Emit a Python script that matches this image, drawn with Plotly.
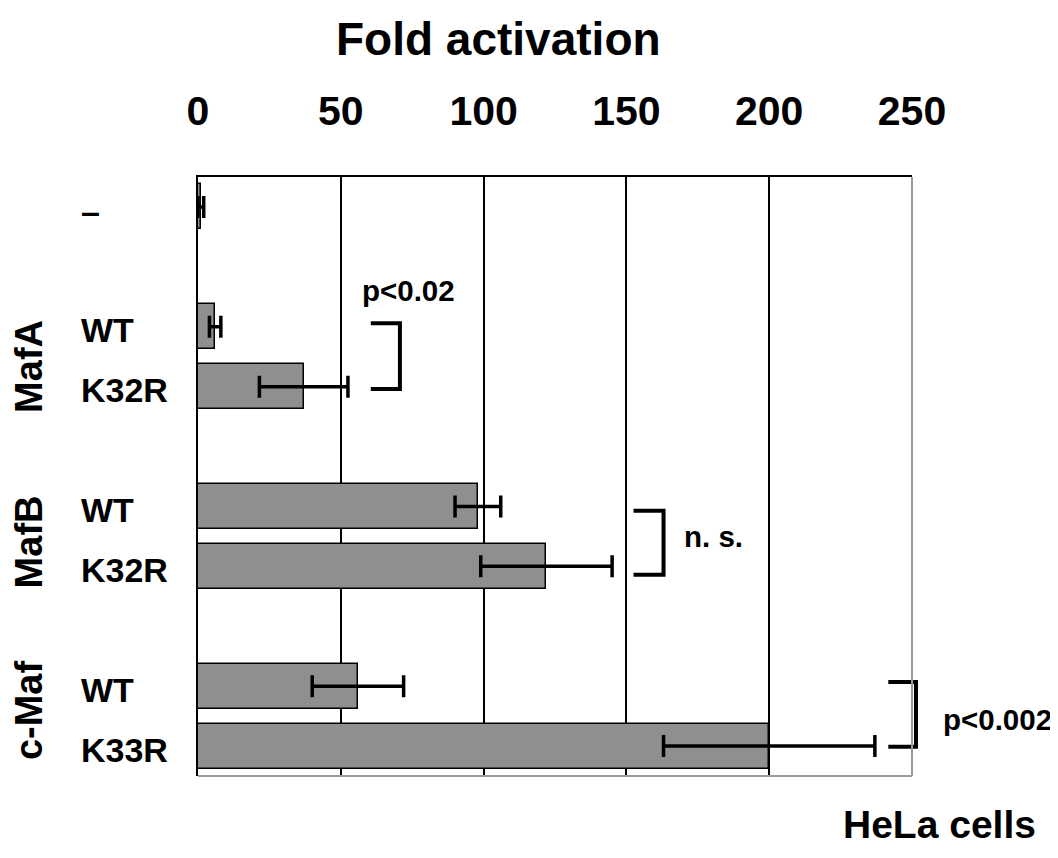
import plotly.graph_objects as go

# ---- data ----
rows = ["–", None, "WT", "K32R", None, "WT", "K32R", None, "WT", "K33R"]
values = [1, None, 6, 37, None, 98, 122, None, 56, 200]
errors = [1, None, 2, 15.5, None, 8, 23, None, 16, 37]
groups = ["MafA", "MafB", "c-Maf"]
group_rows = [(2, 3), (5, 6), (8, 9)]
tick_vals = [0, 50, 100, 150, 200, 250]
brackets = [("p<0.02", (2, 3)), ("n. s.", (5, 6)), ("p<0.002", (8, 9))]

FONT = "Liberation Sans, Arial, Helvetica, sans-serif"

# page body has an 8px margin: figure is placed at (8, 8) in the window
OFF = 8
W, H = 1050, 850
L, T = 198 - OFF, 177 - OFF
R = W - (912 - OFF)
B = H - (776 - OFF)
pw, ph = W - L - R, H - T - B
XR = [0, 250]
YR = [-0.5, len(rows) - 0.5]

def px_x(px):
    return (px - OFF - L) / pw

def px_y(py):
    return 1 - (py - OFF - T) / ph

def yp(idx):
    return 1 - (idx - YR[0]) / (YR[1] - YR[0])

def xp(v):
    return (v - XR[0]) / (XR[1] - XR[0])

ys = [i for i, r in enumerate(rows) if r is not None]
xs = [values[i] for i in ys]
es = [errors[i] for i in ys]

fig = go.Figure()
fig.add_trace(go.Bar(
    x=xs, y=ys, orientation="h", width=0.75,
    marker=dict(color="#8f8f8f", line=dict(color="black", width=1.5)),
    error_x=dict(type="data", array=es, visible=True, color="black",
                 thickness=3.5, width=11),
    showlegend=False, hoverinfo="x",
))

annotations = []
for i in ys:
    annotations.append(dict(
        text=f"<b>{rows[i]}</b>", xref="paper", yref="paper",
        x=px_x(79), y=yp(i) - 0.006, xanchor="left", yanchor="middle",
        showarrow=False, font=dict(family=FONT, size=34, color="black")))
goff = [0.17, 0.1, -0.1]
for g, (a, b), o in zip(groups, group_rows, goff):
    annotations.append(dict(
        text=f"<b>{g}</b>", xref="paper", yref="paper",
        x=px_x(29), y=yp((a + b) / 2 + o), xanchor="center", yanchor="middle",
        textangle=-90, showarrow=False,
        font=dict(family=FONT, size=38, color="black")))
annotations.append(dict(text="<b>Fold activation</b>", xref="paper", yref="paper",
                        x=px_x(498.5), y=px_y(39), xanchor="center", yanchor="middle",
                        showarrow=False, font=dict(family=FONT, size=46, color="black")))
annotations.append(dict(text="<b>HeLa cells</b>", xref="paper", yref="paper",
                        x=px_x(939), y=px_y(825), xanchor="center", yanchor="middle",
                        showarrow=False, font=dict(family=FONT, size=39, color="black")))

shapes = []
bx = [(60.5, 70.7), (152.5, 163.0), (241.7, 251.4)]
boff = [(-0.06, 0.04), (0.07, 0.14), (-0.07, 0.01)]
text_pos = [("center", 408, -0.6), ("left", 682, 0.5), ("left", 941, 0.56)]
for (label, (a, b)), (x0, x1), (o0, o1), (anc, tx, ty) in zip(brackets, bx, boff, text_pos):
    y0, y1 = yp(a + o0), yp(b + o1)
    X0, X1 = xp(x0), xp(x1)
    shapes.append(dict(type="path", xref="paper", yref="paper",
                       path=f"M {X0},{y0} L {X1},{y0} L {X1},{y1} L {X0},{y1}",
                       line=dict(color="black", width=4), layer="above"))
    annotations.append(dict(text=f"<b>{label}</b>", xref="paper", yref="paper",
                            x=px_x(tx), y=yp(a + ty), xanchor=anc, yanchor="middle",
                            showarrow=False, font=dict(family=FONT, size=29.5, color="black")))

shapes.append(dict(type="line", xref="paper", yref="paper", x0=1, x1=1, y0=0, y1=1,
                   line=dict(color="#9a9a9a", width=2), layer="above"))
shapes.append(dict(type="line", xref="paper", yref="paper", x0=0, x1=1, y0=0, y1=0,
                   line=dict(color="#9a9a9a", width=2), layer="above"))

fig.update_layout(
    width=W, height=H, margin=dict(l=L, r=R, t=T, b=B),
    paper_bgcolor="white", plot_bgcolor="white",
    xaxis=dict(range=XR, side="top", tickvals=tick_vals,
               ticktext=[f"<b>{v}</b>" for v in tick_vals],
               showgrid=True, gridcolor="black", gridwidth=1.5,
               zeroline=False, showline=True, linecolor="black", linewidth=2,
               ticks="", ticklabelstandoff=34,
               tickfont=dict(family=FONT, size=41, color="black")),
    yaxis=dict(range=[YR[1], YR[0]], showticklabels=False, showgrid=False,
               zeroline=False, showline=True, linecolor="black", linewidth=2, ticks=""),
    shapes=shapes, annotations=annotations, bargap=0,
)

fig.write_html("out.html")
